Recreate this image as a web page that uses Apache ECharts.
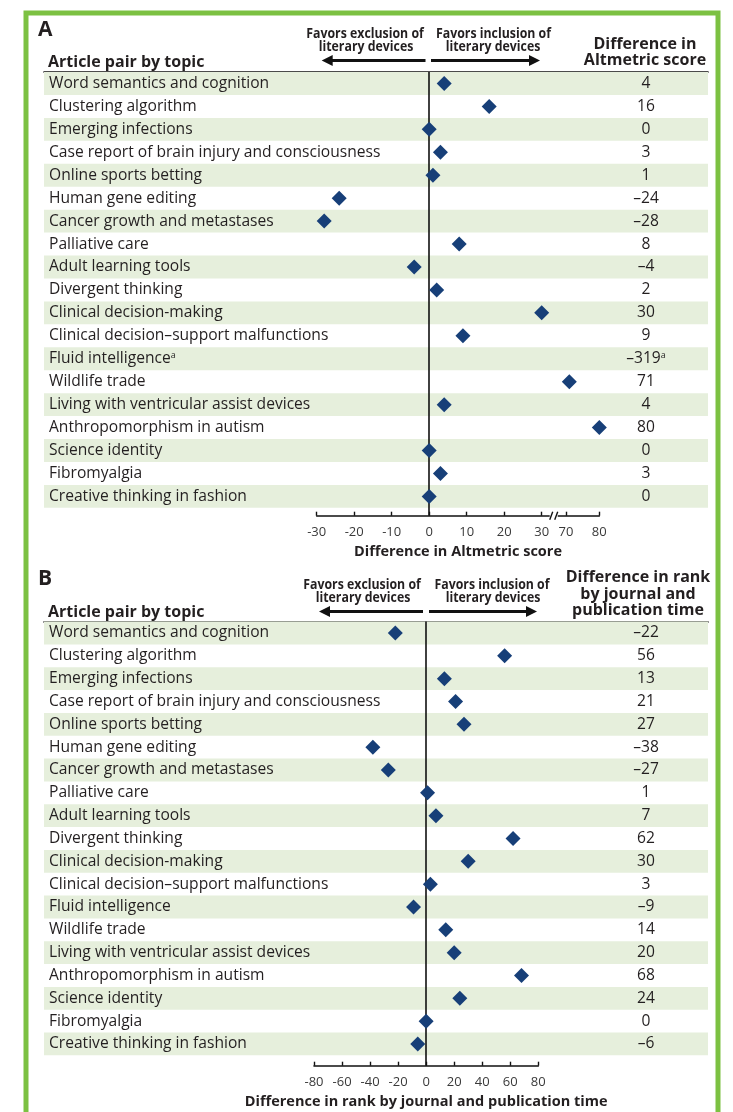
<!DOCTYPE html>
<html>
<head>
<meta charset="utf-8">
<script src="https://cdn.jsdelivr.net/npm/echarts@6/dist/echarts.min.js"></script>
<style>
  html, body { margin: 0; padding: 0; background: #fff; }
  #main { width: 733px; height: 1112px; }
</style>
</head>
<body>
<div id="main"></div>
<script>
// data
var topics = ['Word semantics and cognition', 'Clustering algorithm', 'Emerging infections',
  'Case report of brain injury and consciousness', 'Online sports betting', 'Human gene editing',
  'Cancer growth and metastases', 'Palliative care', 'Adult learning tools', 'Divergent thinking',
  'Clinical decision-making', 'Clinical decision\u2013support malfunctions', 'Fluid intelligence',
  'Wildlife trade', 'Living with ventricular assist devices', 'Anthropomorphism in autism',
  'Science identity', 'Fibromyalgia', 'Creative thinking in fashion'];
var altmetricDiff = [4, 16, 0, 3, 1, -24, -28, 8, -4, 2, 30, 9, -319, 71, 4, 80, 0, 3, 0];
var rankDiff = [-22, 56, 13, 21, 27, -38, -27, 1, 7, 62, 30, 3, -9, 14, 20, 68, 24, 0, -6];
var altTicks = [-30, -20, -10, 0, 10, 20, 30, 70, 80];
var rankTicks = [-80, -60, -40, -20, 0, 20, 40, 60, 80];
var footnoted = 'Fluid intelligence'; // marked with superscript a in panel A

var FONT = '"Open Sans", "Noto Sans", sans-serif';
var INK = '#231f20';
var BAND = '#e6efdc';
var NAVY = '#173f78';

// panel A axis is broken between 30 and 70
function squeeze(v) {
  if (v <= 30) return v;
  return 36.48 + (v - 70) * 0.888;
}
function same(v) { return v; }
function dash(v) { return v < 0 ? '\u2013' + Math.abs(v) : String(v); }

var panels = [
  { values: altmetricDiff, ticks: altTicks, min: -30, max: 80, scale: squeeze,
    top: 72, pitch: 22.94, left: 316.7, right: 599.3, axisY: 515.7,
    title: 'Difference in Altmetric score', note: footnoted },
  { values: rankDiff, ticks: rankTicks, min: -80, max: 80, scale: same,
    top: 621.6, pitch: 22.83, left: 314, right: 538.3, axisY: 1065.7,
    title: 'Difference in rank by journal and publication time', note: null }
];

var grid = [], xAxis = [], yAxis = [], series = [];

panels.forEach(function (p, k) {
  var g0 = k * 2, g1 = k * 2 + 1;
  var y0 = k * 3;
  var n = topics.length;
  var tableH = n * p.pitch;
  var plotH = p.axisY - p.top;

  grid.push({ left: 44, width: 664, top: p.top, height: tableH });
  grid.push({ left: p.left, width: p.right - p.left, top: p.top, height: plotH });

  // table grid: header rule on top
  xAxis.push({
    gridIndex: g0, type: 'value', min: 0, max: 1, position: 'top',
    axisLine: { show: true, lineStyle: { color: '#111', width: 1.6 } },
    axisTick: { show: false }, axisLabel: { show: false }, splitLine: { show: false }
  });
  var ticks = p.ticks.map(p.scale);
  xAxis.push({
    gridIndex: g1, type: 'value', min: p.scale(p.min), max: p.scale(p.max),
    name: p.title, nameLocation: 'middle', nameGap: 29,
    nameTextStyle: { fontFamily: FONT, fontWeight: 'bold', fontSize: 14.5, color: INK },
    axisLine: { show: true, onZero: false, lineStyle: { color: '#111', width: 1.6 } },
    axisTick: { show: true, inside: true, length: 4, customValues: ticks, lineStyle: { color: '#111', width: 1.4 } },
    axisLabel: {
      customValues: ticks, margin: 10, fontFamily: FONT, fontSize: 13, color: '#3a3a3a',
      formatter: function (v) {
        for (var i = 0; i < ticks.length; i++) {
          if (Math.abs(ticks[i] - v) < 1e-6) return String(p.ticks[i]);
        }
        return '';
      }
    },
    splitLine: { show: false }
  });

  var sup = { fontSize: 9, fontFamily: FONT, color: INK, verticalAlign: 'top', padding: [0, 0, 7, 0] };
  yAxis.push({
    gridIndex: g0, type: 'category', data: topics, inverse: true, position: 'left',
    axisLine: { show: false }, axisTick: { show: false }, splitLine: { show: false },
    axisLabel: {
      inside: true, margin: 5, fontFamily: FONT, fontSize: 15.6, color: INK,
      formatter: function (v) { return v === p.note ? v + '{sup|a}' : v; },
      rich: { sup: sup }
    }
  });
  yAxis.push({
    gridIndex: g0, type: 'category', data: topics, inverse: true, position: 'right',
    axisLine: { show: false }, axisTick: { show: false }, splitLine: { show: false },
    axisLabel: {
      inside: true, margin: 62, align: 'center', fontFamily: FONT, fontSize: 15.6, color: INK,
      formatter: function (v, i) {
        var s = dash(p.values[i]);
        return v === p.note ? s + '{sup|a}' : s;
      },
      rich: { sup: sup }
    }
  });
  yAxis.push({
    gridIndex: g1, type: 'value', inverse: true, show: false,
    min: -0.5, max: -0.5 + plotH / p.pitch
  });

  // shaded rows
  series.push({
    type: 'bar', xAxisIndex: g0, yAxisIndex: y0, silent: true, z: 0,
    barWidth: '100%', itemStyle: { color: BAND },
    data: topics.map(function (t, i) { return i % 2 === 0 ? 1 : 0; })
  });
  // zero line
  series.push({
    type: 'scatter', xAxisIndex: g1, yAxisIndex: y0 + 2, data: [], z: 2,
    markLine: {
      silent: true, symbol: ['none', 'none'], label: { show: false },
      lineStyle: { color: '#111', width: 1.6, type: 'solid' },
      data: [{ xAxis: 0 }]
    }
  });
  // diamonds (values off the scale are left out)
  var pts = [];
  p.values.forEach(function (v, i) {
    if (v >= p.min && v <= p.max) pts.push([p.scale(v), i]);
  });
  series.push({
    type: 'scatter', xAxisIndex: g1, yAxisIndex: y0 + 2, z: 5, silent: true,
    symbol: 'diamond', symbolSize: 15, itemStyle: { color: NAVY, opacity: 1 },
    data: pts
  });
});

function txt(x, y, s, font, align) {
  return { type: 'text', silent: true, z: 10,
    style: { x: x, y: y, text: s, font: font, fill: INK, textAlign: align || 'left', textVerticalAlign: 'middle' } };
}
// condensed bold caption over the arrows
function fav(x, y, s) {
  return { type: 'text', silent: true, z: 10, x: x, y: y, scaleX: 0.88,
    style: { x: 0, y: 0, text: s, font: 'bold 14px ' + FONT, fill: INK, textAlign: 'center', textVerticalAlign: 'middle' } };
}
function arrow(x1, x2, y) {
  // x1 = tail, x2 = tip
  var d = x2 > x1 ? 1 : -1;
  return [
    { type: 'line', silent: true, z: 10, shape: { x1: x1, y1: y, x2: x2 - d * 8, y2: y }, style: { stroke: '#111', lineWidth: 3 } },
    { type: 'polygon', silent: true, z: 10, shape: { points: [[x2, y], [x2 - d * 11, y - 5.5], [x2 - d * 11, y + 5.5]] }, style: { fill: '#111' } }
  ];
}

var head = 'bold 16px ' + FONT;
var graphic = [
  { type: 'rect', silent: true, z: 20, shape: { x: 26, y: 13, width: 692, height: 1200 },
    style: { fill: 'none', stroke: '#7cc142', lineWidth: 5 } },
  txt(38, 30, 'A', 'bold 21px ' + FONT),
  txt(48, 62, 'Article pair by topic', head),
  fav(365, 34, 'Favors exclusion of'),
  fav(366, 47.5, 'literary devices'),
  fav(493.5, 34, 'Favors inclusion of'),
  fav(493, 47.5, 'literary devices'),
  txt(645, 44, 'Difference in', head, 'center'),
  txt(645, 60, 'Altmetric score', head, 'center'),

  txt(38, 579, 'B', 'bold 21px ' + FONT),
  txt(48, 612, 'Article pair by topic', head),
  fav(362, 585, 'Favors exclusion of'),
  fav(363, 598, 'literary devices'),
  fav(492, 585, 'Favors inclusion of'),
  fav(493, 598, 'literary devices'),
  txt(638, 577, 'Difference in rank', head, 'center'),
  txt(638, 594, 'by journal and', head, 'center'),
  txt(638, 610, 'publication time', head, 'center')
].concat(arrow(425.5, 321.7, 60.5), arrow(431, 540, 60.5),
         arrow(423, 319, 611.5), arrow(429, 537, 611.5));

var myChart = echarts.init(document.getElementById('main'), null, { renderer: 'canvas' });
myChart.setOption({
  animation: false,
  backgroundColor: '#fff',
  grid: grid, xAxis: xAxis, yAxis: yAxis, series: series,
  graphic: graphic
});

// axis break mark on panel A
var bx = myChart.convertToPixel({ xAxisIndex: 1 }, 33.2);
var by = panels[0].axisY;
myChart.setOption({
  graphic: graphic.concat([
    { type: 'rect', silent: true, z: 11, shape: { x: bx - 4, y: by - 3, width: 8, height: 6 }, style: { fill: '#fff' } },
    { type: 'line', silent: true, z: 12, shape: { x1: bx - 4, y1: by + 4, x2: bx - 1, y2: by - 4 }, style: { stroke: '#111', lineWidth: 1.4 } },
    { type: 'line', silent: true, z: 12, shape: { x1: bx + 1, y1: by + 4, x2: bx + 4, y2: by - 4 }, style: { stroke: '#111', lineWidth: 1.4 } }
  ])
});
</script>
</body>
</html>
